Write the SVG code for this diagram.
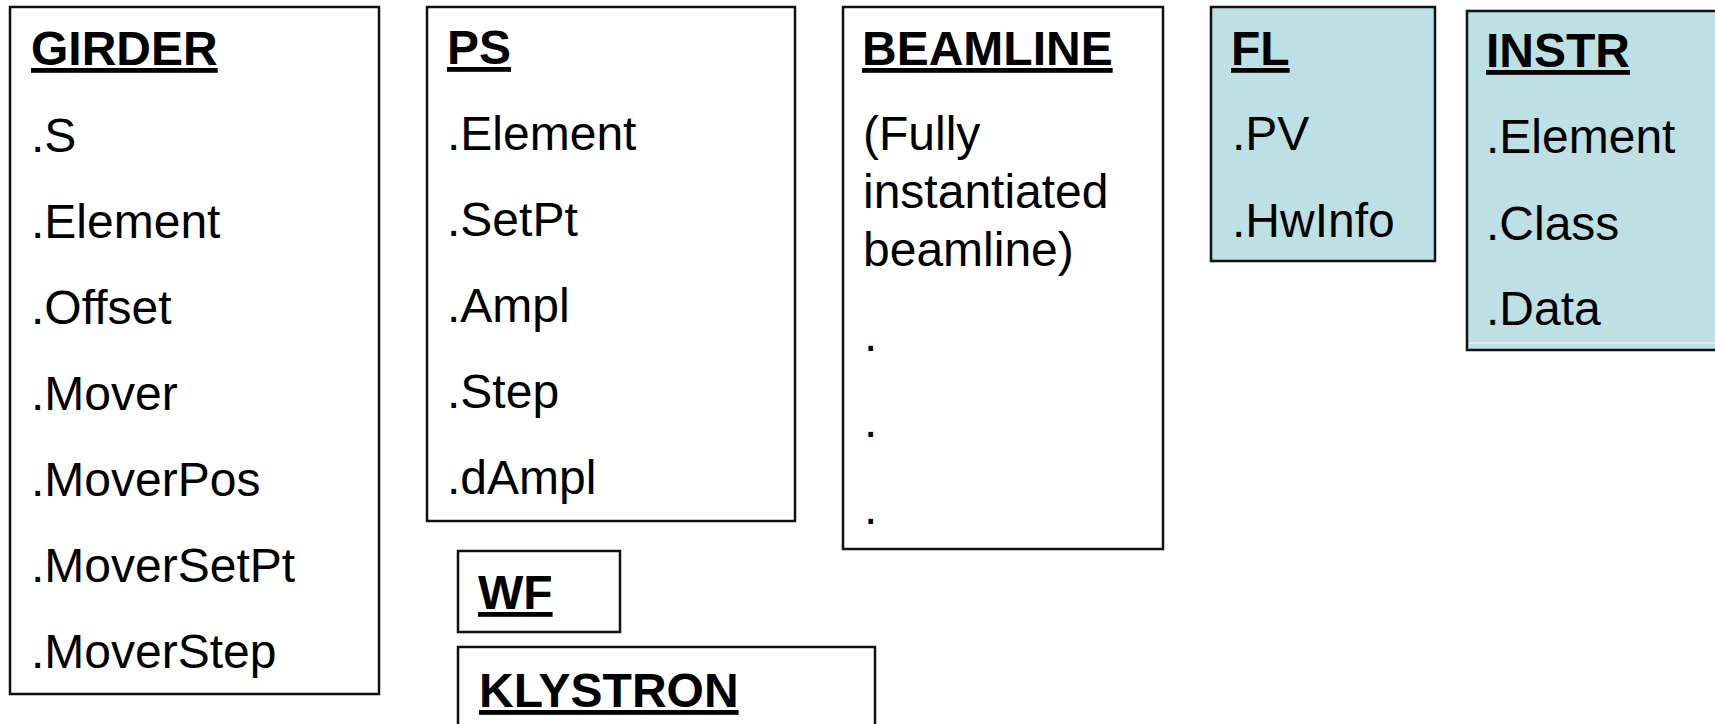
<svg xmlns="http://www.w3.org/2000/svg" width="1715" height="724" viewBox="0 0 1715 724">
  <style>
    .box { fill: #ffffff; stroke: #111111; stroke-width: 2.5; }
    .box.hw { fill: #bce0e3; }
    .title { font-family: "Liberation Sans", Arial, sans-serif; font-size: 48px; font-weight: bold; fill: #000; text-decoration: underline; }
    .field { font-family: "Liberation Sans", Arial, sans-serif; font-size: 48px; fill: #000; }
  </style>
  <rect width="1715" height="724" fill="#ffffff"/>

  <g id="girder">
    <rect class="box" x="10" y="7" width="369" height="687"/>
    <text class="title" x="31" y="65">GIRDER</text>
    <text class="field" x="31" y="152">.S</text>
    <text class="field" x="31" y="238">.Element</text>
    <text class="field" x="31" y="324">.Offset</text>
    <text class="field" x="31" y="410">.Mover</text>
    <text class="field" x="31" y="496">.MoverPos</text>
    <text class="field" x="31" y="582">.MoverSetPt</text>
    <text class="field" x="31" y="668">.MoverStep</text>
  </g>

  <g id="ps">
    <rect class="box" x="427" y="7" width="368" height="514"/>
    <text class="title" x="447" y="64">PS</text>
    <text class="field" x="447" y="150">.Element</text>
    <text class="field" x="447" y="236">.SetPt</text>
    <text class="field" x="447" y="322">.Ampl</text>
    <text class="field" x="447" y="408">.Step</text>
    <text class="field" x="447" y="494">.dAmpl</text>
  </g>

  <g id="wf">
    <rect class="box" x="458" y="551" width="162" height="81"/>
    <text class="title" x="478" y="609">WF</text>
  </g>

  <g id="klystron">
    <rect class="box" x="458" y="647" width="417" height="100"/>
    <text class="title" x="479" y="707">KLYSTRON</text>
  </g>

  <g id="beamline">
    <rect class="box" x="843" y="7" width="320" height="542"/>
    <text class="title" x="862" y="65">BEAMLINE</text>
    <text class="field" x="863" y="150">(Fully</text>
    <text class="field" x="863" y="208">instantiated</text>
    <text class="field" x="863" y="266">beamline)</text>
    <text class="field" x="864" y="351">.</text>
    <text class="field" x="864" y="437">.</text>
    <text class="field" x="864" y="524">.</text>
  </g>

  <g id="fl">
    <rect class="box hw" x="1211" y="7" width="224" height="254"/>
    <text class="title" x="1231" y="65">FL</text>
    <text class="field" x="1232" y="150">.PV</text>
    <text class="field" x="1232" y="237">.HwInfo</text>
  </g>

  <g id="instr">
    <rect class="box hw" x="1467" y="11" width="300" height="339"/>
    <line x1="1469" y1="343" x2="1715" y2="343" stroke="#ffffff" stroke-width="1"/>
    <text class="title" x="1486" y="67">INSTR</text>
    <text class="field" x="1486" y="153">.Element</text>
    <text class="field" x="1486" y="240">.Class</text>
    <text class="field" x="1486" y="325">.Data</text>
  </g>

  <g id="connectors"/>
</svg>
